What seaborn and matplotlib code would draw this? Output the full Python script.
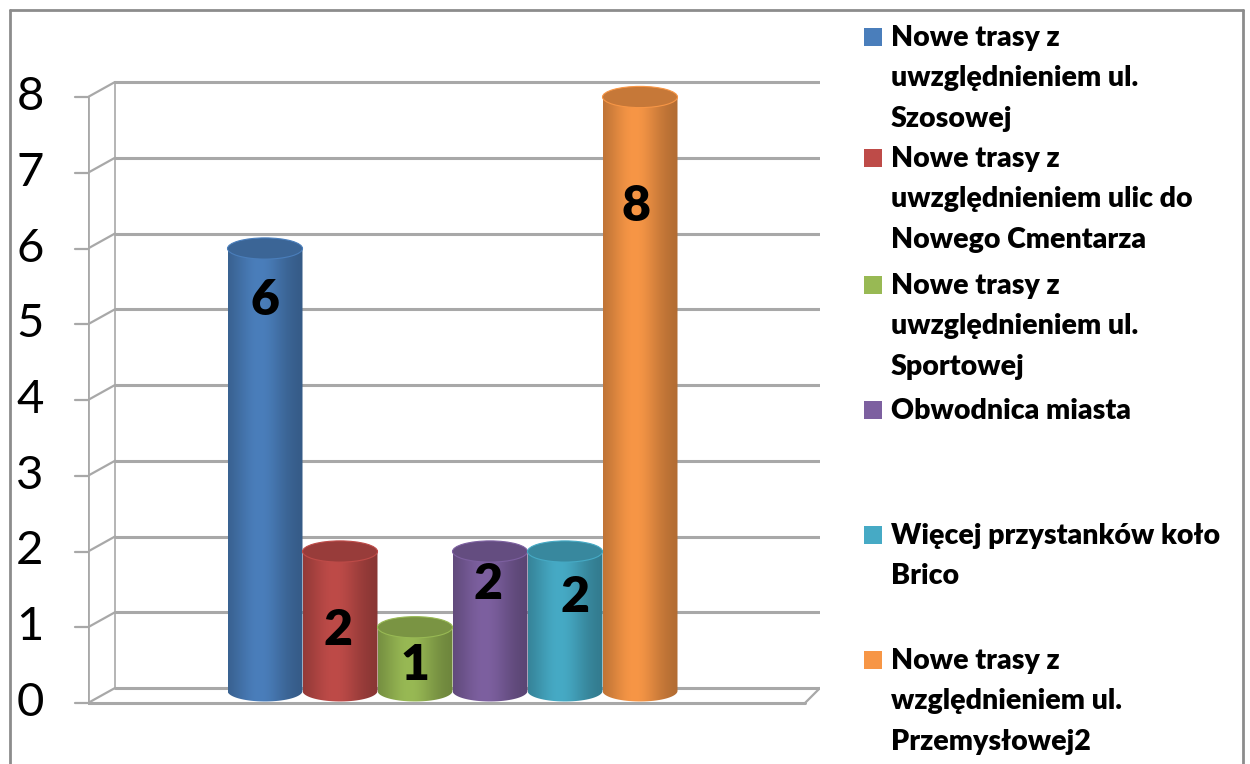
import numpy as np
import matplotlib
matplotlib.use("Agg")
import matplotlib.pyplot as plt
import seaborn as sns
from matplotlib.patches import Ellipse, Rectangle, PathPatch
from matplotlib.path import Path
from matplotlib.lines import Line2D
from matplotlib.colors import to_rgb

# data
categories = [
    "Nowe trasy z\nuwzględnieniem ul.\nSzosowej",
    "Nowe trasy z\nuwzględnieniem ulic do\nNowego Cmentarza",
    "Nowe trasy z\nuwzględnieniem ul.\nSportowej",
    "Obwodnica miasta",
    "Więcej przystanków koło\nBrico",
    "Nowe trasy z\nwzględnieniem ul.\nPrzemysłowej2",
]
values = [6, 2, 1, 2, 2, 8]
colors = ["#4a7ebb", "#be4b48", "#98b954", "#7d60a0", "#46aac5", "#f79646"]
yticks = [0, 1, 2, 3, 4, 5, 6, 7, 8]

# layout (Excel 3D cylinder look)
label_y = [5.32, 0.96, 0.5, 1.56, 1.39, 6.55]
label_dx = [0.0, -0.03, 0.0, -0.03, 0.13, -0.05]
legend_y = [37, 158, 285, 410, 535, 660]

sns.set_theme(style="white")
plt.rcParams["font.family"] = ["Lato", "DejaVu Sans"]

W, H = 1250, 764
fig = plt.figure(figsize=(12.5, 7.64), dpi=100)

ppu_x, ppu_y = 75.0, 75.75
x0 = -(265 - 88) / ppu_x
x1 = x0 + (820 - 88) / ppu_x
ylo, yhi = -0.3, 8.4
ax = fig.add_axes([88 / W, (H - 703 - (-ylo) * ppu_y) / H,
                   (820 - 88) / W, (yhi - ylo) * ppu_y / H])

sns.barplot(x=list(range(len(values))), y=values, hue=list(range(len(values))),
            palette=colors, width=1.0, legend=False, ax=ax, zorder=3)
ax.set_xlim(x0, x1)
ax.set_ylim(ylo, yhi)
ax.axis("off")

# 3D walls
dx, dy = 27 / ppu_x, 15 / ppu_y
floor_r = x0 + (805 - 88) / ppu_x
grid_c = "#a8a8a8"
for v in yticks:
    if v > 0:
        ax.plot([x0 + dx, x1], [v + dy, v + dy], color=grid_c, lw=2.2, zorder=1)
    ax.plot([x0, x0 + dx], [v, v + dy], color=grid_c, lw=1.6, zorder=1)
    ax.plot([x0 - 13 / ppu_x, x0], [v, v], color=grid_c, lw=1.6, zorder=1, clip_on=False)
    ax.text(x0 - 58 / ppu_x, v, str(v), ha="center", va="center", fontsize=34,
            color="black", clip_on=False)
ax.plot([x0, x0], [0, 8], color=grid_c, lw=2, zorder=1)
ax.plot([x0 + dx, x0 + dx], [dy, 8 + dy], color=grid_c, lw=1.2, zorder=1)
ax.plot([x0 + dx, x1], [dy, dy], color=grid_c, lw=2.2, zorder=1)
ax.plot([x0, floor_r], [0, 0], color=grid_c, lw=2.2, zorder=1)
ax.plot([floor_r, x1], [0, dy], color=grid_c, lw=1.6, zorder=1)

# cylinders: shade each seaborn bar
ell_h = 0.28
bot = ell_h / 2 + 0.02
t = np.linspace(0, 1, 200)
shade = 0.7 + 0.3 * np.exp(-((t - 0.42) / 0.36) ** 2)
for i, p in enumerate(ax.patches):
    bx, bw, bh = p.get_x(), p.get_width(), p.get_height()
    base = np.array(to_rgb(colors[i]))
    p.set_visible(False)
    cx = bx + bw / 2
    ang = np.linspace(0, np.pi, 40)
    arc = np.column_stack([cx + bw / 2 * np.cos(ang), bot - ell_h / 2 * np.sin(ang)])
    verts = [(bx, bh), (bx + bw, bh)] + [tuple(a) for a in arc] + [(bx, bh)]
    codes = [Path.MOVETO] + [Path.LINETO] * (len(verts) - 2) + [Path.CLOSEPOLY]
    clip = PathPatch(Path(verts, codes), transform=ax.transData, facecolor="none",
                     edgecolor="none")
    ax.add_patch(clip)
    img = np.clip(base[None, None, :] * shade[None, :, None], 0, 1)
    im = ax.imshow(img, extent=[bx, bx + bw, 0, bh], aspect="auto",
                   zorder=3 + i * 0.01, interpolation="bilinear")
    im.set_clip_path(clip)
    top = np.clip(base * 0.8, 0, 1)
    ax.add_patch(Ellipse((cx, bh), bw, ell_h, facecolor=top,
                         edgecolor=np.clip(base * 1.0, 0, 1), lw=0.8,
                         zorder=3.5 + i * 0.01))
    ax.text(cx + label_dx[i], label_y[i], str(values[i]), ha="center", va="center",
            fontsize=36, fontweight="heavy", color="black", zorder=6)
ax.set_xlim(x0, x1)
ax.set_ylim(ylo, yhi)

# legend
for i, lab in enumerate(categories):
    y = legend_y[i]
    fig.add_artist(Rectangle((864 / W, 1 - (y + 9) / H), 18 / W, 18 / H,
                             transform=fig.transFigure, facecolor=colors[i],
                             edgecolor="none"))
    fig.text(891 / W, 1 - (y - 12) / H, lab, ha="left", va="top", fontsize=20.5,
             fontweight="heavy", color="black", linespacing=1.68)

# outer frame
fc = "#8c8c8c"
fig.add_artist(Line2D([10 / W, 10 / W], [0, 1 - 10 / H], color=fc, lw=2))
fig.add_artist(Line2D([10 / W, 1243 / W], [1 - 10 / H, 1 - 10 / H], color=fc, lw=2))
fig.add_artist(Line2D([1243 / W, 1243 / W], [0, 1 - 10 / H], color=fc, lw=2))

fig.savefig("out.png", dpi=100, facecolor="white")
